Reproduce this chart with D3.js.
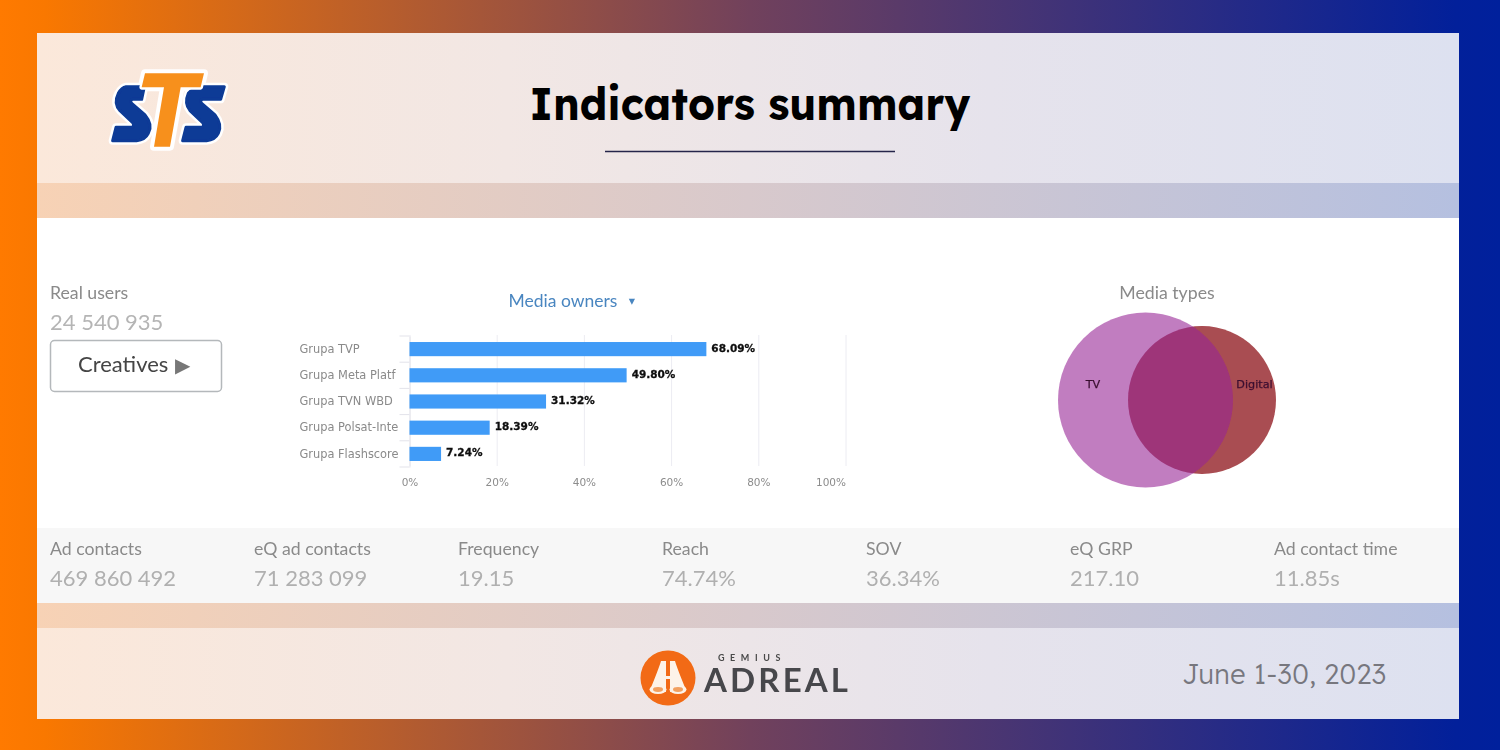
<!DOCTYPE html>
<html>
<head>
<meta charset="utf-8">
<script src="https://cdn.jsdelivr.net/npm/d3@7"></script>
<style>
  html, body { margin: 0; padding: 0; background: #fff; }
  svg { display: block; }
</style>
</head>
<body>
<div id="canvas"></div>
<script>
const owners = ["Grupa TVP", "Grupa Meta Platf", "Grupa TVN WBD", "Grupa Polsat-Inte", "Grupa Flashscore"];
const ownerReach = [68.09, 49.8, 31.32, 18.39, 7.24];
const reachTicks = [0, 20, 40, 60, 80, 100];
const mediaTypes = ["TV", "Digital"];
const mediaAudience = [100, 71.5];
const statNames = ["Ad contacts", "eQ ad contacts", "Frequency", "Reach", "SOV", "eQ GRP", "Ad contact time"];
const statValues = ["469 860 492", "71 283 099", "19.15", "74.74%", "36.34%", "217.10", "11.85s"];

const WIDTH = 1500,
  HEIGHT = 750,
  UI_FONT = "Lato, sans-serif",
  CHART_FONT = "'DejaVu Sans', sans-serif";

const svg = d3.select("#canvas").append("svg").attr("width", WIDTH).attr("height", HEIGHT);
const defs = svg.append("defs");

function addGradient(id, stops) {
  defs.append("linearGradient")
    .attr("id", id)
    .selectAll("stop")
    .data(stops)
    .enter()
    .append("stop")
    .attr("offset", (d) => d[0])
    .attr("stop-color", (d) => d[1]);
}

addGradient("bg", [[0, "#ff7a00"], [0.03, "#f97800"], [0.5, "#71415c"], [0.97, "#02209a"], [1, "#00209c"]]);
addGradient("panel", [[0, "#fbe8da"], [0.33, "#f2e7e4"], [0.67, "#e6e3ec"], [1, "#dde1f0"]]);
addGradient("band", [[0, "#f7d2b5"], [0.5, "#d8c9cc"], [1, "#b5c0e0"]]);

defs.append("filter").attr("id", "soft").append("feGaussianBlur").attr("stdDeviation", 0.45);
// names get cut off before the axis, like in the original widget
defs.append("clipPath").attr("id", "name-clip")
  .append("rect").attr("x", -115).attr("y", -20).attr("width", 104.5).attr("height", 40);

drawBackground();
drawHeader();
drawLeftColumn();
drawBars();
drawVenn();
drawStats();
drawFooter();

function drawBackground() {
  svg.append("rect").attr("width", WIDTH).attr("height", HEIGHT).attr("fill", "url(#bg)");
  const panel = svg.append("g");
  panel.append("rect").attr("x", 37).attr("y", 33).attr("width", 1422).attr("height", 686).attr("fill", "url(#panel)");
  panel.append("rect").attr("x", 37).attr("y", 183).attr("width", 1422).attr("height", 35).attr("fill", "url(#band)");
  panel.append("rect").attr("x", 37).attr("y", 603).attr("width", 1422).attr("height", 25).attr("fill", "url(#band)");
  panel.append("rect").attr("x", 37).attr("y", 218).attr("width", 1422).attr("height", 310).attr("fill", "#fff");
  panel.append("rect").attr("x", 37).attr("y", 528).attr("width", 1422).attr("height", 75).attr("fill", "#f7f7f7");
}

function drawHeader() {
  svg.append("text")
    .attr("x", 750).attr("y", 120)
    .attr("text-anchor", "middle")
    .attr("font-family", "Lexend, Inter, sans-serif")
    .attr("font-weight", 700)
    .attr("font-size", 46)
    .attr("textLength", 441)
    .attr("lengthAdjust", "spacingAndGlyphs")
    .attr("fill", "#000")
    .text("Indicators summary");
  svg.append("line")
    .attr("x1", 605).attr("x2", 895).attr("y1", 151.5).attr("y2", 151.5)
    .attr("stroke", "#25254a").attr("stroke-width", 1.5);

  const leftS = "M108 110 L163 110 L155 148 L128 148 Q118 150 125 160 L165 195 Q190 225 175 250 Q165 270 140 272 L68 272 L78 232 L125 232 Q135 228 128 218 L90 182 Q70 160 85 130 Q95 112 108 110 Z";
  const rightS = "M335 110 L403 110 L392 148 L338 148 Q328 150 335 160 L375 195 Q398 225 385 250 Q375 270 350 272 L278 272 L288 232 L335 232 Q345 228 338 218 L300 182 Q282 160 295 130 Q312 112 335 110 Z";
  const letterT = "M165 70 L342 70 L332 112 L272 112 L240 290 L192 290 L222 112 L155 112 Z";

  const logo = svg.append("g").attr("transform", "translate(90,50) scale(0.3333)").attr("filter", "url(#soft)").attr("stroke-linejoin", "round");
  [leftS, rightS, letterT].forEach((d) => {
    logo.append("path").attr("d", d).attr("fill", "#fff").attr("stroke", "#fff").attr("stroke-width", 24);
  });
  [leftS, rightS].forEach((d) => {
    logo.append("path").attr("d", d).attr("fill", "#0a3a96").attr("stroke", "#0a3a96").attr("stroke-width", 9);
  });
  logo.append("path").attr("d", letterT).attr("fill", "#fff").attr("stroke", "#fff").attr("stroke-width", 14);
  logo.append("path").attr("d", letterT).attr("fill", "#f7901e");
}

function drawLeftColumn() {
  const g = svg.append("g").attr("font-family", UI_FONT).attr("filter", "url(#soft)");
  g.append("text").attr("x", 50).attr("y", 299).attr("font-size", 17.7).attr("fill", "#8a8a8a").text("Real users");
  g.append("text").attr("x", 50).attr("y", 330).attr("font-size", 22).attr("fill", "#b5b5b5").text("24 540 935");
  g.append("rect")
    .attr("x", 50.5).attr("y", 340.5).attr("width", 171).attr("height", 51).attr("rx", 4)
    .attr("fill", "#fff").attr("stroke", "#b4b8bb").attr("stroke-width", 1.5);
  g.append("text").attr("x", 78).attr("y", 372).attr("font-size", 22).attr("fill", "#444").text("Creatives");
  g.append("text").attr("x", 175).attr("y", 372).attr("font-size", 20).attr("font-family", CHART_FONT).attr("fill", "#777").text("\u25B6");
}

function drawBars() {
  const x = d3.scaleLinear().domain([0, 100]).range([409.5, 845.5]);
  const y = d3.scaleBand().domain(owners).range([336, 467]).paddingInner(0.46).paddingOuter(0.23);
  const g = svg.append("g").attr("filter", "url(#soft)");

  g.append("text")
    .attr("x", 563).attr("y", 307)
    .attr("text-anchor", "middle")
    .attr("font-family", UI_FONT).attr("font-size", 17.5).attr("fill", "#4a86c0")
    .text("Media owners");
  g.append("text")
    .attr("x", 632).attr("y", 305)
    .attr("text-anchor", "middle")
    .attr("font-family", CHART_FONT).attr("font-size", 12.5).attr("fill", "#4a86c0")
    .text("\u25BE");

  const xAxis = d3.axisBottom(x)
    .tickValues(reachTicks)
    .tickFormat((d) => `${d}%`)
    .tickSize(-131)
    .tickPadding(13);
  const xGroup = g.append("g").attr("transform", "translate(0,466)").call(xAxis);
  xGroup.select(".domain").remove();
  xGroup.selectAll(".tick line").attr("stroke", "#ececf2");
  xGroup.selectAll(".tick text")
    .attr("font-family", CHART_FONT).attr("font-size", 10.5).attr("fill", "#8c8c8c")
    .attr("text-anchor", (d) => (d === 100 ? "end" : "middle"));

  const yAxis = d3.axisLeft(y).tickSize(0).tickPadding(10);
  const yGroup = g.append("g").attr("transform", "translate(409.5,0)").call(yAxis);
  yGroup.select(".domain").attr("stroke", "#e3e3ea");
  yGroup.selectAll(".tick").attr("clip-path", "url(#name-clip)");
  yGroup.selectAll(".tick text")
    .attr("text-anchor", "start")
    .attr("x", -110)
    .attr("font-family", CHART_FONT).attr("font-size", 11.4).attr("fill", "#8a8a8a");

  const ownerStep = y.step();
  yGroup.selectAll(".edge")
    .data(d3.range(owners.length + 1))
    .enter()
    .append("line")
    .attr("class", "edge")
    .attr("x1", -10).attr("x2", 0)
    .attr("y1", (i) => y.range()[0] + i * ownerStep)
    .attr("y2", (i) => y.range()[0] + i * ownerStep)
    .attr("stroke", "#e3e3ea");

  g.selectAll(".bar")
    .data(owners)
    .enter()
    .append("rect")
    .attr("class", "bar")
    .attr("x", x(0))
    .attr("y", (d) => y(d))
    .attr("width", (d, i) => x(ownerReach[i]) - x(0))
    .attr("height", y.bandwidth())
    .attr("fill", "#3f9bf7");

  g.selectAll(".bar-label")
    .data(owners)
    .enter()
    .append("text")
    .attr("class", "bar-label")
    .attr("x", (d, i) => x(ownerReach[i]) + 5)
    .attr("y", (d) => y(d) + y.bandwidth() / 2 + 2.5)
    .attr("font-family", CHART_FONT)
    .attr("font-weight", 700)
    .attr("font-size", 10.5)
    .attr("stroke", "#111")
    .attr("stroke-width", 0.3)
    .attr("fill", "#111")
    .text((d, i) => `${ownerReach[i].toFixed(2)}%`);
}

function drawVenn() {
  const radius = d3.scaleSqrt().domain([0, mediaAudience[0]]).range([0, 87.5]);
  const centerX = d3.scaleOrdinal().domain(mediaTypes).range([1145.5, 1202]);
  const fills = d3.scaleOrdinal().domain(mediaTypes).range(["#982596", "#931e24"]);
  const alpha = d3.scaleOrdinal().domain(mediaTypes).range([0.6, 0.8]);
  const labelX = d3.scaleOrdinal().domain(mediaTypes).range([1093, 1254.5]);
  const g = svg.append("g").attr("filter", "url(#soft)");

  g.append("text")
    .attr("x", 1167).attr("y", 299)
    .attr("text-anchor", "middle")
    .attr("font-family", UI_FONT).attr("font-size", 17.7).attr("fill", "#8a8a8a")
    .text("Media types");

  // digital goes first so the overlap takes the magenta of the TV circle
  g.selectAll("circle")
    .data(mediaTypes.slice().reverse())
    .enter()
    .append("circle")
    .attr("cx", (d) => centerX(d))
    .attr("cy", 400)
    .attr("r", (d) => radius(mediaAudience[mediaTypes.indexOf(d)]))
    .attr("fill", (d) => fills(d))
    .attr("fill-opacity", (d) => alpha(d));

  g.selectAll(".venn-label")
    .data(mediaTypes)
    .enter()
    .append("text")
    .attr("class", "venn-label")
    .attr("x", (d) => labelX(d))
    .attr("y", 388)
    .attr("text-anchor", "middle")
    .attr("font-family", CHART_FONT).attr("font-size", 11.2).attr("fill", "#3a1030")
    .attr("stroke", "#3a1030").attr("stroke-width", 0.25)
    .text((d) => d);
}

function drawStats() {
  const x = d3.scalePoint().domain(statNames).range([50, 1274]);
  const g = svg.append("g").attr("font-family", UI_FONT).attr("filter", "url(#soft)");
  g.selectAll(".stat-name")
    .data(statNames)
    .enter()
    .append("text")
    .attr("class", "stat-name")
    .attr("x", (d) => x(d)).attr("y", 555)
    .attr("font-size", 17.7).attr("fill", "#8a8a8a")
    .text((d) => d);
  g.selectAll(".stat-value")
    .data(statNames)
    .enter()
    .append("text")
    .attr("class", "stat-value")
    .attr("x", (d) => x(d)).attr("y", 586)
    .attr("font-size", 22).attr("fill", "#b0b0b0")
    .text((d, i) => statValues[i]);
}

function drawFooter() {
  const logo = svg.append("g").attr("filter", "url(#soft)");
  logo.append("circle").attr("cx", 668).attr("cy", 678).attr("r", 27.5).attr("fill", "#f26a13");
  [1, -1].forEach((side) => {
    const barrel = logo.append("g").attr("transform", `translate(668,0) scale(${side},1)`);
    barrel.append("path")
      .attr("d", "M-2 661 L-7 661 Q-9 668 -18 690 L-2 692 Z")
      .attr("fill", "#fdf3e9");
    barrel.append("ellipse").attr("cx", -10).attr("cy", 689.5).attr("rx", 8.5).attr("ry", 4.5).attr("fill", "#fdf3e9");
    barrel.append("ellipse").attr("cx", -10).attr("cy", 689.5).attr("rx", 5).attr("ry", 2.4).attr("fill", "#f2a060");
  });
  logo.append("rect").attr("x", 665).attr("y", 676).attr("width", 6).attr("height", 3).attr("fill", "#fdf3e9");
  logo.append("text")
    .attr("x", 752).attr("y", 661)
    .attr("text-anchor", "middle")
    .attr("font-family", UI_FONT).attr("font-size", 9).attr("font-weight", 700)
    .attr("letter-spacing", 5.6).attr("fill", "#4a4a4a")
    .text("GEMIUS");
  logo.append("text")
    .attr("x", 704).attr("y", 692)
    .attr("font-family", UI_FONT).attr("font-size", 33).attr("font-weight", 700)
    .attr("textLength", 144)
    .attr("fill", "#47474b")
    .text("ADREAL");
  svg.append("text")
    .attr("x", 1386).attr("y", 684)
    .attr("text-anchor", "end")
    .attr("font-family", "Lexend, Inter, sans-serif")
    .attr("font-weight", 300)
    .attr("font-size", 27)
    .attr("textLength", 204)
    .attr("fill", "#77777e")
    .text("June 1-30, 2023");
}
</script>
</body>
</html>
